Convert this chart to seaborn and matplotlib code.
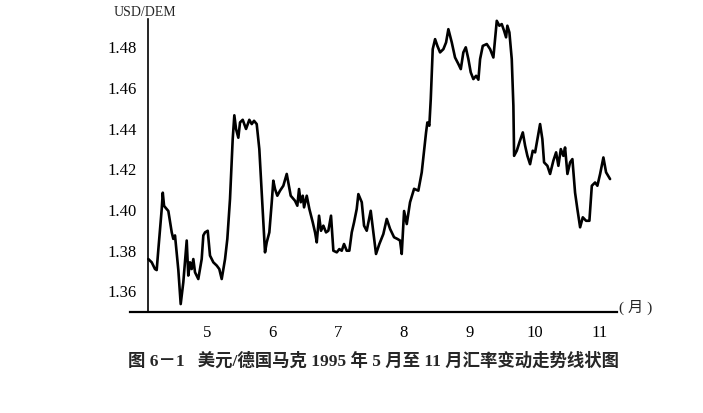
import matplotlib
matplotlib.use("Agg")
import matplotlib.pyplot as plt
import seaborn as sns
import pandas as pd

# position along the month axis (5 = start of May, 11 = start of November)
months = [4.095, 4.147, 4.197, 4.223, 4.248, 4.300, 4.316, 4.336, 4.401, 4.453,
          4.477, 4.503, 4.554, 4.580, 4.590, 4.630, 4.682, 4.706, 4.732, 4.758,
          4.783, 4.809, 4.859, 4.911, 4.936, 4.962, 5.003, 5.038, 5.089, 5.141,
          5.180, 5.217, 5.268, 5.303, 5.344, 5.385, 5.410, 5.436, 5.471, 5.497,
          5.538, 5.589, 5.639, 5.676, 5.711, 5.752, 5.792, 5.829, 5.879, 5.905,
          5.945, 5.982, 6.006, 6.032, 6.067, 6.109, 6.159, 6.211, 6.235, 6.272,
          6.338, 6.373, 6.399, 6.425, 6.456, 6.476, 6.517, 6.557, 6.609, 6.644,
          6.670, 6.705, 6.735, 6.771, 6.812, 6.847, 6.888, 6.924, 6.976, 7.015,
          7.052, 7.087, 7.128, 7.168, 7.205, 7.240, 7.281, 7.306, 7.358, 7.393,
          7.434, 7.495, 7.535, 7.576, 7.627, 7.688, 7.740, 7.791, 7.852, 7.902,
          7.943, 7.969, 8.005, 8.046, 8.096, 8.158, 8.223, 8.275, 8.341, 8.361,
          8.391, 8.413, 8.443, 8.479, 8.514, 8.555, 8.606, 8.647, 8.682, 8.734,
          8.784, 8.835, 8.872, 8.911, 8.948, 8.988, 9.024, 9.064, 9.106, 9.141,
          9.167, 9.208, 9.269, 9.320, 9.370, 9.396, 9.422, 9.462, 9.498, 9.534,
          9.564, 9.584, 9.615, 9.651, 9.676, 9.687, 9.728, 9.768, 9.820, 9.855,
          9.890, 9.931, 9.972, 10.008, 10.043, 10.084, 10.119, 10.145, 10.196, 10.237,
          10.287, 10.329, 10.364, 10.401, 10.440, 10.466, 10.502, 10.543, 10.578, 10.619,
          10.654, 10.696, 10.737, 10.787, 10.838, 10.875, 10.925, 10.960, 11.002, 11.052,
          11.093, 11.154]

usd_dem = [1.3754, 1.3738, 1.3705, 1.3700, 1.3800, 1.4000, 1.4080, 1.4015, 1.3990, 1.3885,
           1.3853, 1.3870, 1.3700, 1.3574, 1.3533, 1.3640, 1.3845, 1.3673, 1.3738, 1.3705,
           1.3754, 1.3689, 1.3656, 1.3754, 1.3870, 1.3885, 1.3893, 1.3771, 1.3738, 1.3722,
           1.3705, 1.3656, 1.3754, 1.3853, 1.4050, 1.4343, 1.4460, 1.4393, 1.4350, 1.4425,
           1.4438, 1.4393, 1.4438, 1.4417, 1.4433, 1.4417, 1.4294, 1.4080, 1.3787, 1.3836,
           1.3885, 1.4033, 1.4139, 1.4098, 1.4065, 1.4090, 1.4114, 1.4172, 1.4130, 1.4065,
           1.4040, 1.4016, 1.4098, 1.4033, 1.4065, 1.4008, 1.4065, 1.4000, 1.3934, 1.3885,
           1.3836, 1.3967, 1.3893, 1.3918, 1.3885, 1.3893, 1.3967, 1.3795, 1.3787, 1.3803,
           1.3795, 1.3828, 1.3795, 1.3795, 1.3885, 1.3934, 1.4000, 1.4073, 1.4033, 1.3918,
           1.3893, 1.3991, 1.3885, 1.3779, 1.3828, 1.3877, 1.3951, 1.3902, 1.3861, 1.3853,
           1.3845, 1.3779, 1.3990, 1.3926, 1.4033, 1.4099, 1.4090, 1.4180, 1.4376, 1.4425,
           1.4409, 1.4540, 1.4785, 1.4834, 1.4801, 1.4769, 1.4785, 1.4818, 1.4883, 1.4818,
           1.4744, 1.4712, 1.4687, 1.4769, 1.4794, 1.4736, 1.4671, 1.4638, 1.4654, 1.4635,
           1.4736, 1.4801, 1.4810, 1.4785, 1.4744, 1.4834, 1.4924, 1.4900, 1.4908, 1.4875,
           1.4843, 1.4900, 1.4867, 1.4736, 1.4507, 1.4261, 1.4286, 1.4327, 1.4376, 1.4311,
           1.4261, 1.4220, 1.4286, 1.4278, 1.4343, 1.4417, 1.4343, 1.4229, 1.4212, 1.4172,
           1.4237, 1.4278, 1.4212, 1.4294, 1.4261, 1.4302, 1.4172, 1.4229, 1.4245, 1.4080,
           1.4000, 1.3910, 1.3959, 1.3942, 1.3942, 1.4114, 1.4130, 1.4114, 1.4172, 1.4253,
           1.4180, 1.4147]

month_ticks = [5, 6, 7, 8, 9, 10, 11]
month_labels = ["5", "6", "7", "8", "9", "10", "11"]
rate_ticks = [1.36, 1.38, 1.40, 1.42, 1.44, 1.46, 1.48]
rate_labels = ["1.36", "1.38", "1.40", "1.42", "1.44", "1.46", "1.48"]

y_label = "USD/DEM"
x_unit = "( 月 )"
caption = "图 6－1   美元/德国马克 1995 年 5 月至 11 月汇率变动走势线状图"

sns.set_style("white")
plt.rcParams['font.family'] = ['Liberation Serif', 'Noto Sans CJK SC', 'DejaVu Sans']

df = pd.DataFrame({"month": months, "rate": usd_dem})

fig = plt.figure(figsize=(7.03, 4.14), dpi=100)
ax = fig.add_axes([130 / 703, 1 - 313 / 414, (617 - 130) / 703, (313 - 20) / 414])

sns.lineplot(data=df, x="month", y="rate", color="black", linewidth=1.9, ax=ax,
             sort=False, estimator=None)

ax.set_xlim(3.815, 11.26)
ax.set_ylim(1.3494, 1.4933)

for s in ["top", "right"]:
    ax.spines[s].set_visible(False)
ax.spines["left"].set_position(("data", 4.095))
ax.spines["left"].set_linewidth(1.2)
ax.spines["bottom"].set_linewidth(1.6)
ax.spines["left"].set_color("black")
ax.spines["bottom"].set_color("black")

ax.set_xticks(month_ticks)
ax.set_xticklabels(month_labels, fontsize=12, family="Liberation Serif")
ax.set_yticks(rate_ticks)
ax.set_yticklabels(rate_labels, fontsize=12, family="Liberation Serif")
ax.tick_params(axis="x", direction="inout", length=9, width=1.2, pad=4, colors="black")
ax.tick_params(axis="y", direction="in", length=7, width=1.2, pad=8, colors="black")
ax.set_xlabel("")
ax.set_ylabel("")
ax.grid(False)

fig.text(145 / 703, 1 - 12 / 414, y_label, fontsize=10, family="Liberation Serif",
         ha="center", va="center")
fig.text(619 / 703, 1 - 307 / 414, x_unit, fontsize=11,
         family=["Liberation Serif", "Noto Sans CJK SC", "DejaVu Sans"], ha="left", va="center")
fig.text(373 / 703, 1 - 361 / 414, caption, fontsize=12.5, fontweight="bold",
         family=["Liberation Serif", "Noto Sans CJK SC", "DejaVu Sans"], ha="center", va="center")

fig.savefig("out.png", dpi=100, facecolor="white")
